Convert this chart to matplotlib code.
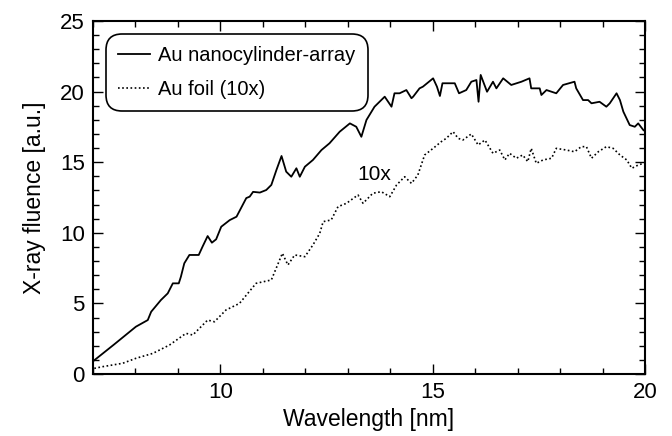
import numpy as np
import matplotlib
matplotlib.use("Agg")
import matplotlib.pyplot as plt
from matplotlib.ticker import MultipleLocator

# Au nanocylinder-array (solid)
wl_array = [7.0, 7.5, 8.01, 8.29, 8.37, 8.6, 8.76, 8.88, 9.02, 9.07, 9.15, 9.27, 9.49,
            9.58, 9.70, 9.80, 9.9, 10.02, 10.22, 10.38, 10.61, 10.69, 10.77, 10.93,
            11.08, 11.2, 11.32, 11.44, 11.55, 11.67, 11.79, 11.87, 11.99, 12.18, 12.38,
            12.57, 12.81, 13.05, 13.2, 13.32, 13.44, 13.63, 13.87, 14.03, 14.1, 14.22,
            14.38, 14.5, 14.54, 14.69, 14.77, 15.01, 15.1, 15.17, 15.23, 15.52, 15.62,
            15.79, 15.91, 16.03, 16.08, 16.13, 16.28, 16.42, 16.5, 16.66, 16.85, 17.09,
            17.28, 17.32, 17.52, 17.56, 17.68, 17.91, 18.07, 18.34, 18.38, 18.54, 18.66,
            18.74, 18.93, 19.09, 19.17, 19.33, 19.41, 19.49, 19.64, 19.76, 19.84, 19.96,
            20.0]
fl_array = [0.9, 2.1, 3.35, 3.82, 4.41, 5.24, 5.71, 6.42, 6.42, 6.89, 7.84, 8.43, 8.43,
            9.02, 9.77, 9.30, 9.54, 10.43, 10.9, 11.14, 12.46, 12.56, 12.9, 12.85,
            13.03, 13.39, 14.45, 15.44, 14.33, 13.97, 14.57, 13.97, 14.68, 15.16, 15.86,
            16.34, 17.16, 17.75, 17.51, 16.8, 17.99, 18.93, 19.64, 18.93, 19.88, 19.88,
            20.11, 19.53, 19.64, 20.23, 20.35, 20.94, 20.35, 19.69, 20.59, 20.59, 19.88,
            20.11, 20.7, 20.82, 19.28, 21.18, 19.99, 20.7, 20.23, 20.94, 20.47, 20.7,
            20.94, 20.23, 20.23, 19.76, 20.11, 19.88, 20.47, 20.7, 20.23, 19.4, 19.4,
            19.17, 19.28, 18.93, 19.17, 19.88, 19.4, 18.58, 17.63, 17.51, 17.75, 17.28,
            17.2]

# Au foil (10x), dotted
wl_foil = [7.03, 7.23, 7.7, 8.01, 8.41, 8.8, 9.19, 9.35, 9.7, 9.86, 10.13, 10.45, 10.84,
           11.2, 11.46, 11.59, 11.75, 11.99, 12.18, 12.34, 12.42, 12.61, 12.77, 12.97,
           13.24, 13.36, 13.59, 13.79, 13.99, 14.15, 14.34, 14.5, 14.65, 14.81, 15.01,
           15.2, 15.32, 15.48, 15.6, 15.71, 15.91, 16.07, 16.23, 16.42, 16.58, 16.7,
           16.81, 16.97, 17.12, 17.24, 17.32, 17.44, 17.6, 17.8, 17.91, 18.15, 18.34,
           18.5, 18.62, 18.74, 18.9, 19.09, 19.25, 19.41, 19.57, 19.69, 19.84, 19.96]
fl_foil = [0.4, 0.52, 0.76, 1.11, 1.46, 2.05, 2.88, 2.76, 3.82, 3.7, 4.53, 5.0, 6.42,
           6.66, 8.55, 7.72, 8.43, 8.31, 9.14, 9.96, 10.79, 10.91, 11.85, 12.09,
           12.68, 12.09, 12.8, 12.91, 12.56, 13.39, 13.97, 13.5, 14.09, 15.51, 15.98,
           16.45, 16.69, 17.16, 16.69, 16.57, 17.0, 16.22, 16.57, 15.63, 15.86, 15.16,
           15.63, 15.28, 15.51, 15.04, 15.98, 14.92, 15.16, 15.28, 15.98, 15.86, 15.74,
           16.1, 16.1, 15.28, 15.74, 16.1, 15.98, 15.51, 15.16, 14.57, 14.8, 14.92]

plt.rcParams['font.family'] = ['Liberation Sans', 'DejaVu Sans']

fig = plt.figure(figsize=(6.72, 4.36), dpi=100)
ax = fig.add_axes([93 / 672, 1 - 374 / 436, 552 / 672, 353 / 436])

ax.plot(wl_array, fl_array, color='black', lw=1.3, label='Au nanocylinder-array')
ax.plot(wl_foil, fl_foil, color='black', lw=1.2, linestyle=(0, (1, 1.5)),
        label='Au foil (10x)')

ax.set_xlim(7, 20)
ax.set_ylim(0, 25)
ax.xaxis.set_major_locator(MultipleLocator(5))
ax.xaxis.set_minor_locator(MultipleLocator(1))
ax.yaxis.set_major_locator(MultipleLocator(5))
ax.yaxis.set_minor_locator(MultipleLocator(1))
ax.tick_params(which='both', direction='in', top=True, right=True, labelsize=16, width=1)
ax.tick_params(which='major', length=7, pad=6)
ax.tick_params(which='minor', length=4)
for s in ax.spines.values():
    s.set_linewidth(1.5)

ax.set_xlabel('Wavelength [nm]', fontsize=16.5, labelpad=3)
ax.set_ylabel('X-ray fluence [a.u.]', fontsize=16.5, labelpad=10)

ax.text(13.63, 14.1, '10x', fontsize=15, ha='center', va='center')

leg = ax.legend(loc='upper left', fontsize=14.5, handlelength=1.6, handletextpad=0.4,
                labelspacing=0.75, borderpad=0.3, borderaxespad=0.95, fancybox=True,
                framealpha=1, edgecolor='black')
leg.get_frame().set_linewidth(1.2)
leg.get_frame().set_boxstyle('round', pad=0.3, rounding_size=0.8)

fig.savefig('out.png', dpi=100)
